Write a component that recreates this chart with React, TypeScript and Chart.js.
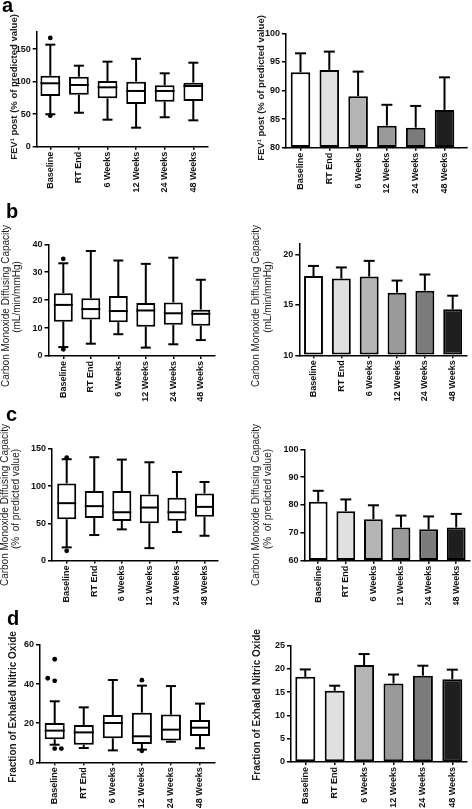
import React, { useEffect, useRef } from 'react';
import { Chart, registerables } from 'chart.js';

Chart.register(...registerables);
Chart.defaults.font.family = '"Liberation Sans", Arial, sans-serif';

// ---------- shared categories / styling ----------
const categories = ['Baseline', 'RT End', '6 Weeks', '12 Weeks', '24 Weeks', '48 Weeks'];
const barColors = ['#ffffff', '#e0e0e0', '#b4b4b4', '#9a9a9a', '#7b7b7b', '#1f1f1f'];

// ---------- a: FEV1 post (% of predicted value) ----------
const fev1Min = [49.8, 52.2, 41.5, 29.2, 45.2, 40.5];
const fev1Q1 = [77.9, 79.9, 74.3, 65.6, 69.2, 70.2];
const fev1Median = [97.4, 94.8, 91.2, 85.6, 85.6, 93.2];
const fev1Q3 = [109, 107.5, 101, 99.9, 94.3, 98.4];
const fev1Max = [156.7, 124.4, 130.6, 135, 112.7, 129];
const fev1OutlierX = [0, 0];
const fev1OutlierY = [167, 47.6];
const fev1BoxTicks = [0, 50, 100, 150];
const fev1Mean = [93.2, 93.6, 89.0, 83.85, 83.5, 86.6];
const fev1Err = [3.3, 3.2, 4.3, 3.65, 3.8, 5.7];
const fev1MeanTicks = [80, 85, 90, 95, 100];

// ---------- b: DLCO (mL/min/mmHg) ----------
const dlcoMin = [3.2, 4.4, 7.8, 3.0, 4.2, 5.7];
const dlcoQ1 = [12.3, 13.1, 12.1, 10.5, 11.2, 10.8];
const dlcoMedian = [18.3, 16.8, 16.1, 16.3, 15.3, 15.1];
const dlcoQ3 = [22.5, 20.7, 21.5, 19.0, 19.2, 16.6];
const dlcoMax = [33.2, 37.6, 34.2, 33.0, 35.2, 27.3];
const dlcoOutlierX = [0, 0];
const dlcoOutlierY = [34.8, 2.4];
const dlcoBoxTicks = [0, 10, 20, 30, 40];
const dlcoMean = [17.85, 17.6, 17.8, 16.2, 16.4, 14.55];
const dlcoErr = [1.0, 1.1, 1.55, 1.2, 1.6, 1.35];
const dlcoMeanTicks = [10, 15, 20];

// ---------- c: DLCO (% of predicted value) ----------
const dlcoPctMin = [17.6, 34.2, 41.8, 16.6, 38.2, 33.2];
const dlcoPctQ1 = [55.4, 57.2, 53.1, 50, 53.5, 58.9];
const dlcoPctMedian = [77, 73, 64.8, 71.1, 64.8, 72];
const dlcoPctQ3 = [103.5, 93.2, 93.2, 88.7, 84.2, 90];
const dlcoPctMax = [136, 138.7, 135.5, 131.9, 118.9, 105.4];
const dlcoPctOutlierX = [0, 0];
const dlcoPctOutlierY = [138, 13];
const dlcoPctBoxTicks = [0, 50, 100, 150];
const dlcoPctMean = [81.2, 77.8, 74.9, 71.9, 71.3, 71.9];
const dlcoPctErr = [3.9, 4.2, 5.0, 4.3, 4.6, 4.9];
const dlcoPctMeanTicks = [60, 70, 80, 90, 100];

// ---------- d: Fraction of exhaled nitric oxide ----------
const fenoMin = [9.0, 7.3, 6.1, 6.5, 10.5, 7.2];
const fenoQ1 = [11.8, 9.0, 12.3, 9.4, 11.1, 13.5];
const fenoMedian = [16.2, 15.3, 20.1, 13.3, 16.7, 17.7];
const fenoQ3 = [20.1, 19.1, 24.2, 25.4, 24.4, 21.6];
const fenoMax = [31.2, 28.1, 42.1, 39.2, 39.0, 30.0];
const fenoOutlierX = [0, -0.24, 0, 0, 0.23, 3, 3];
const fenoOutlierY = [52.7, 43, 41.7, 7.0, 7.0, 42, 5.9];
const fenoBoxTicks = [0, 20, 40, 60];
const fenoMean = [18.3, 15.3, 20.85, 16.9, 18.55, 17.8];
const fenoErr = [1.6, 1.1, 2.35, 1.9, 2.15, 2.05];
const fenoMeanTicks = [0, 5, 10, 15, 20, 25];

// ---------- layout / styles ----------
const TICK_FONT = { family: '"Liberation Sans", Arial, sans-serif', size: 9, weight: 'bold' as const };
const TITLE_BOLD = 'bold 9.5px "Liberation Sans", Arial, sans-serif';
const TITLE_BOLD10 = 'bold 10px "Liberation Sans", Arial, sans-serif';
const TITLE_REG = '10px "Liberation Sans", Arial, sans-serif';
const LETTER_FONT = 'bold 20px "Liberation Sans", Arial, sans-serif';

type Title = { text: string; x: number; y: number; font: string };
type Spec = {
  kind: 'box' | 'bar';
  canvas: { x: number; y: number; w: number; h: number };
  area: { L: number; R: number; T: number; B: number };
  c0: number;
  step: number;
  yMin: number;
  yMax: number;
  yTicks: number[];
  box?: { min: number[]; q1: number[]; med: number[]; q3: number[]; max: number[]; outX: number[]; outY: number[] };
  bar?: { mean: number[]; err: number[] };
  titles: Title[];
  letter?: { text: string; x: number; y: number };
  axisEnd?: number;
};

const DLCO_T1 = 'Carbon Monoxide Diffusing Capacity';

const specs: Spec[] = [
  {
    kind: 'box', canvas: { x: 0, y: 0, w: 236, h: 200 },
    area: { L: 36.7, R: 207.6, T: 32.1, B: 146.7 }, c0: 50.3, step: 28.6,
    yMin: 0, yMax: 176, yTicks: fev1BoxTicks,
    box: { min: fev1Min, q1: fev1Q1, med: fev1Median, q3: fev1Q3, max: fev1Max, outX: fev1OutlierX, outY: fev1OutlierY },
    titles: [{ text: 'FEV\u00B9 post (% of predicted value)', x: 14, y: 87, font: TITLE_BOLD }],
    letter: { text: 'a', x: 2, y: 12 },
  },
  {
    kind: 'bar', canvas: { x: 236, y: 0, w: 236, h: 200 },
    area: { L: 286, R: 459, T: 33.3, B: 147.7 }, c0: 300.5, step: 28.8,
    yMin: 80, yMax: 100, yTicks: fev1MeanTicks,
    bar: { mean: fev1Mean, err: fev1Err },
    titles: [{ text: 'FEV\u00B9 post (% of predicted value)', x: 261, y: 88, font: TITLE_BOLD }],
    axisEnd: 467.7,
  },
  {
    kind: 'box', canvas: { x: 0, y: 200, w: 236, h: 205 },
    area: { L: 48.5, R: 215, T: 244.3, B: 356 }, c0: 63.3, step: 27.5,
    yMin: 0, yMax: 40, yTicks: dlcoBoxTicks,
    box: { min: dlcoMin, q1: dlcoQ1, med: dlcoMedian, q3: dlcoQ3, max: dlcoMax, outX: dlcoOutlierX, outY: dlcoOutlierY },
    titles: [
      { text: DLCO_T1, x: 6.7, y: 306, font: TITLE_REG },
      { text: '(mL/min/mmHg)', x: 17.5, y: 297, font: TITLE_REG },
    ],
    letter: { text: 'b', x: 6, y: 217.5 },
  },
  {
    kind: 'bar', canvas: { x: 236, y: 200, w: 236, h: 205 },
    area: { L: 299.3, R: 467, T: 244.2, B: 355.3 }, c0: 313.5, step: 27.84,
    yMin: 10, yMax: 21, yTicks: dlcoMeanTicks,
    bar: { mean: dlcoMean, err: dlcoErr },
    titles: [
      { text: DLCO_T1, x: 256.7, y: 306, font: TITLE_REG },
      { text: '(mL/min/mmHg)', x: 268.5, y: 297, font: TITLE_REG },
    ],
  },
  {
    kind: 'box', canvas: { x: 0, y: 405, w: 236, h: 200 },
    area: { L: 52, R: 218, T: 448.8, B: 560.5 }, c0: 66.7, step: 27.56,
    yMin: 0, yMax: 150, yTicks: dlcoPctBoxTicks,
    box: { min: dlcoPctMin, q1: dlcoPctQ1, med: dlcoPctMedian, q3: dlcoPctQ3, max: dlcoPctMax, outX: dlcoPctOutlierX, outY: dlcoPctOutlierY },
    titles: [
      { text: DLCO_T1, x: 5.7, y: 505, font: TITLE_REG },
      { text: '(%  of predicted value)', x: 16.7, y: 499, font: TITLE_REG },
    ],
    letter: { text: 'c', x: 6, y: 421 },
  },
  {
    kind: 'bar', canvas: { x: 236, y: 405, w: 236, h: 200 },
    area: { L: 304.4, R: 470, T: 449.3, B: 560.7 }, c0: 318.2, step: 27.6,
    yMin: 60, yMax: 100, yTicks: dlcoPctMeanTicks,
    bar: { mean: dlcoPctMean, err: dlcoPctErr },
    titles: [
      { text: DLCO_T1, x: 256.7, y: 505, font: TITLE_REG },
      { text: '(%  of predicted value)', x: 268.3, y: 499, font: TITLE_REG },
    ],
  },
  {
    kind: 'box', canvas: { x: 0, y: 605, w: 236, h: 204 },
    area: { L: 40, R: 214.7, T: 645, B: 762.3 }, c0: 54.7, step: 29.06,
    yMin: 0, yMax: 60, yTicks: fenoBoxTicks,
    box: { min: fenoMin, q1: fenoQ1, med: fenoMedian, q3: fenoQ3, max: fenoMax, outX: fenoOutlierX, outY: fenoOutlierY },
    titles: [{ text: 'Fraction of Exhaled Nitric Oxide', x: 13.5, y: 707, font: TITLE_BOLD10 }],
    letter: { text: 'd', x: 7, y: 625 },
  },
  {
    kind: 'bar', canvas: { x: 236, y: 605, w: 236, h: 204 },
    area: { L: 291, R: 467, T: 645.7, B: 762 }, c0: 305.3, step: 29.4,
    yMin: 0, yMax: 25, yTicks: fenoMeanTicks,
    bar: { mean: fenoMean, err: fenoErr },
    titles: [{ text: 'Fraction of Exhaled Nitric Oxide', x: 257.7, y: 705, font: TITLE_BOLD10 }],
  },
];

const CAP = 10;

function buildConfig(s: Spec): any {
  const c = s.canvas;
  const a = s.area;
  const xMin = -(s.c0 - a.L) / s.step;
  const xMax = (a.R - s.c0) / s.step;
  const datasets: any[] = [];
  if (s.kind === 'box' && s.box) {
    const b = s.box;
    datasets.push({
      type: 'bar',
      data: categories.map((_, i) => ({ x: i, y: [b.q1[i], b.q3[i]] })),
      backgroundColor: '#ffffff',
      borderColor: '#000000',
      borderWidth: 2,
      borderSkipped: false,
      barPercentage: 0.69,
      categoryPercentage: 1,
      order: 2,
    });
    datasets.push({
      type: 'scatter',
      data: b.outY.map((y, i) => ({ x: b.outX[i], y })),
      pointRadius: 2.4,
      pointBackgroundColor: '#000000',
      pointBorderColor: '#000000',
      pointBorderWidth: 0,
      showLine: false,
      order: 1,
    });
  } else if (s.bar) {
    const m = s.bar;
    datasets.push({
      type: 'bar',
      data: categories.map((_, i) => ({ x: i, y: m.mean[i] })),
      base: s.yMin,
      backgroundColor: barColors,
      borderColor: '#000000',
      borderWidth: 2,
      borderSkipped: false,
      barPercentage: 0.68,
      categoryPercentage: 1,
    });
  }

  const decor = {
    id: 'decor',
    afterDatasetsDraw(chart: any) {
      const ctx = chart.ctx as CanvasRenderingContext2D;
      const xs = chart.scales.x;
      const ys = chart.scales.y;
      const meta = chart.getDatasetMeta(0);
      ctx.save();
      ctx.strokeStyle = '#000000';
      ctx.lineWidth = 2;
      const line = (x1: number, y1: number, x2: number, y2: number) => {
        ctx.beginPath();
        ctx.moveTo(x1, y1);
        ctx.lineTo(x2, y2);
        ctx.stroke();
      };
      categories.forEach((_, i) => {
        const cx = xs.getPixelForValue(i);
        if (s.kind === 'box' && s.box) {
          const b = s.box;
          const w = meta.data[i] ? meta.data[i].width : 18;
          const pMax = ys.getPixelForValue(b.max[i]);
          const pQ3 = ys.getPixelForValue(b.q3[i]);
          const pQ1 = ys.getPixelForValue(b.q1[i]);
          const pMin = ys.getPixelForValue(b.min[i]);
          const pMed = ys.getPixelForValue(b.med[i]);
          line(cx, pQ3, cx, pMax);
          line(cx - CAP / 2, pMax, cx + CAP / 2, pMax);
          line(cx, pQ1, cx, pMin);
          line(cx - CAP / 2, pMin, cx + CAP / 2, pMin);
          line(cx - w / 2, pMed, cx + w / 2, pMed);
        } else if (s.bar) {
          const p0 = ys.getPixelForValue(s.bar.mean[i]);
          const p1 = ys.getPixelForValue(s.bar.mean[i] + s.bar.err[i]);
          line(cx, p0, cx, p1);
          line(cx - CAP / 2 - 0.5, p1, cx + CAP / 2 + 0.5, p1);
        }
      });
      ctx.restore();
    },
    afterDraw(chart: any) {
      const ctx = chart.ctx as CanvasRenderingContext2D;
      const area = chart.chartArea;
      ctx.save();
      if (s.axisEnd) {
        ctx.strokeStyle = '#000000';
        ctx.lineWidth = 1.5;
        ctx.beginPath();
        ctx.moveTo(area.right - 1, area.bottom);
        ctx.lineTo(s.axisEnd - c.x, area.bottom);
        ctx.stroke();
      }
      ctx.fillStyle = '#1c1c1c';
      ctx.textAlign = 'center';
      ctx.textBaseline = 'middle';
      s.titles.forEach((t) => {
        ctx.save();
        ctx.font = t.font;
        ctx.translate(t.x - c.x, t.y - c.y);
        ctx.rotate(-Math.PI / 2);
        ctx.fillText(t.text, 0, 0);
        ctx.restore();
      });
      if (s.letter) {
        ctx.font = LETTER_FONT;
        ctx.textAlign = 'left';
        ctx.textBaseline = 'alphabetic';
        ctx.fillStyle = '#000000';
        ctx.fillText(s.letter.text, s.letter.x - c.x, s.letter.y - c.y);
      }
      ctx.restore();
    },
  };

  const axisGrid = (len: number) => ({
    offset: false,
    drawOnChartArea: false,
    drawTicks: true,
    tickLength: len,
    color: '#000000',
    lineWidth: 1.5,
  });

  return {
    type: 'bar',
    data: { datasets },
    options: {
      responsive: false,
      maintainAspectRatio: false,
      animation: false,
      devicePixelRatio: 1,
      events: [],
      layout: { padding: { left: 0, top: a.T - c.y, right: c.x + c.w - a.R, bottom: 0 } },
      plugins: { legend: { display: false }, tooltip: { enabled: false }, title: { display: false } },
      scales: {
        x: {
          type: 'linear',
          min: xMin,
          max: xMax,
          offset: false,
          afterBuildTicks: (sc: any) => {
            sc.ticks = categories.map((_, i) => ({ value: i }));
          },
          afterFit: (sc: any) => {
            sc.height = c.y + c.h - a.B;
          },
          ticks: {
            autoSkip: false,
            maxRotation: 90,
            minRotation: 90,
            padding: 2,
            color: '#111111',
            font: TICK_FONT,
            callback: (v: any) => categories[Math.round(Number(v))] ?? '',
          },
          grid: axisGrid(3),
          border: { display: true, color: '#000000', width: 1.5 },
        },
        y: {
          type: 'linear',
          min: s.yMin,
          max: s.yMax,
          beginAtZero: false,
          afterBuildTicks: (sc: any) => {
            sc.ticks = s.yTicks.map((v) => ({ value: v }));
          },
          afterFit: (sc: any) => {
            sc.width = a.L - c.x;
          },
          ticks: { padding: 2, color: '#111111', font: TICK_FONT },
          grid: axisGrid(4),
          border: { display: true, color: '#000000', width: 1.5 },
        },
      },
    },
    plugins: [decor],
  };
}

function Panel({ spec }: { spec: Spec }) {
  const ref = useRef<HTMLCanvasElement | null>(null);
  useEffect(() => {
    if (!ref.current) return;
    const chart = new Chart(ref.current, buildConfig(spec));
    return () => chart.destroy();
  }, [spec]);
  const c = spec.canvas;
  return (
    <canvas
      ref={ref}
      width={c.w}
      height={c.h}
      style={{ position: 'absolute', left: c.x, top: c.y, width: c.w, height: c.h }}
    />
  );
}

export default function App() {
  return (
    <div style={{ position: 'absolute', left: 0, top: 0, width: 472, height: 809, background: '#ffffff', overflow: 'hidden' }}>
      {specs.map((s, i) => (
        <Panel key={i} spec={s} />
      ))}
    </div>
  );
}
